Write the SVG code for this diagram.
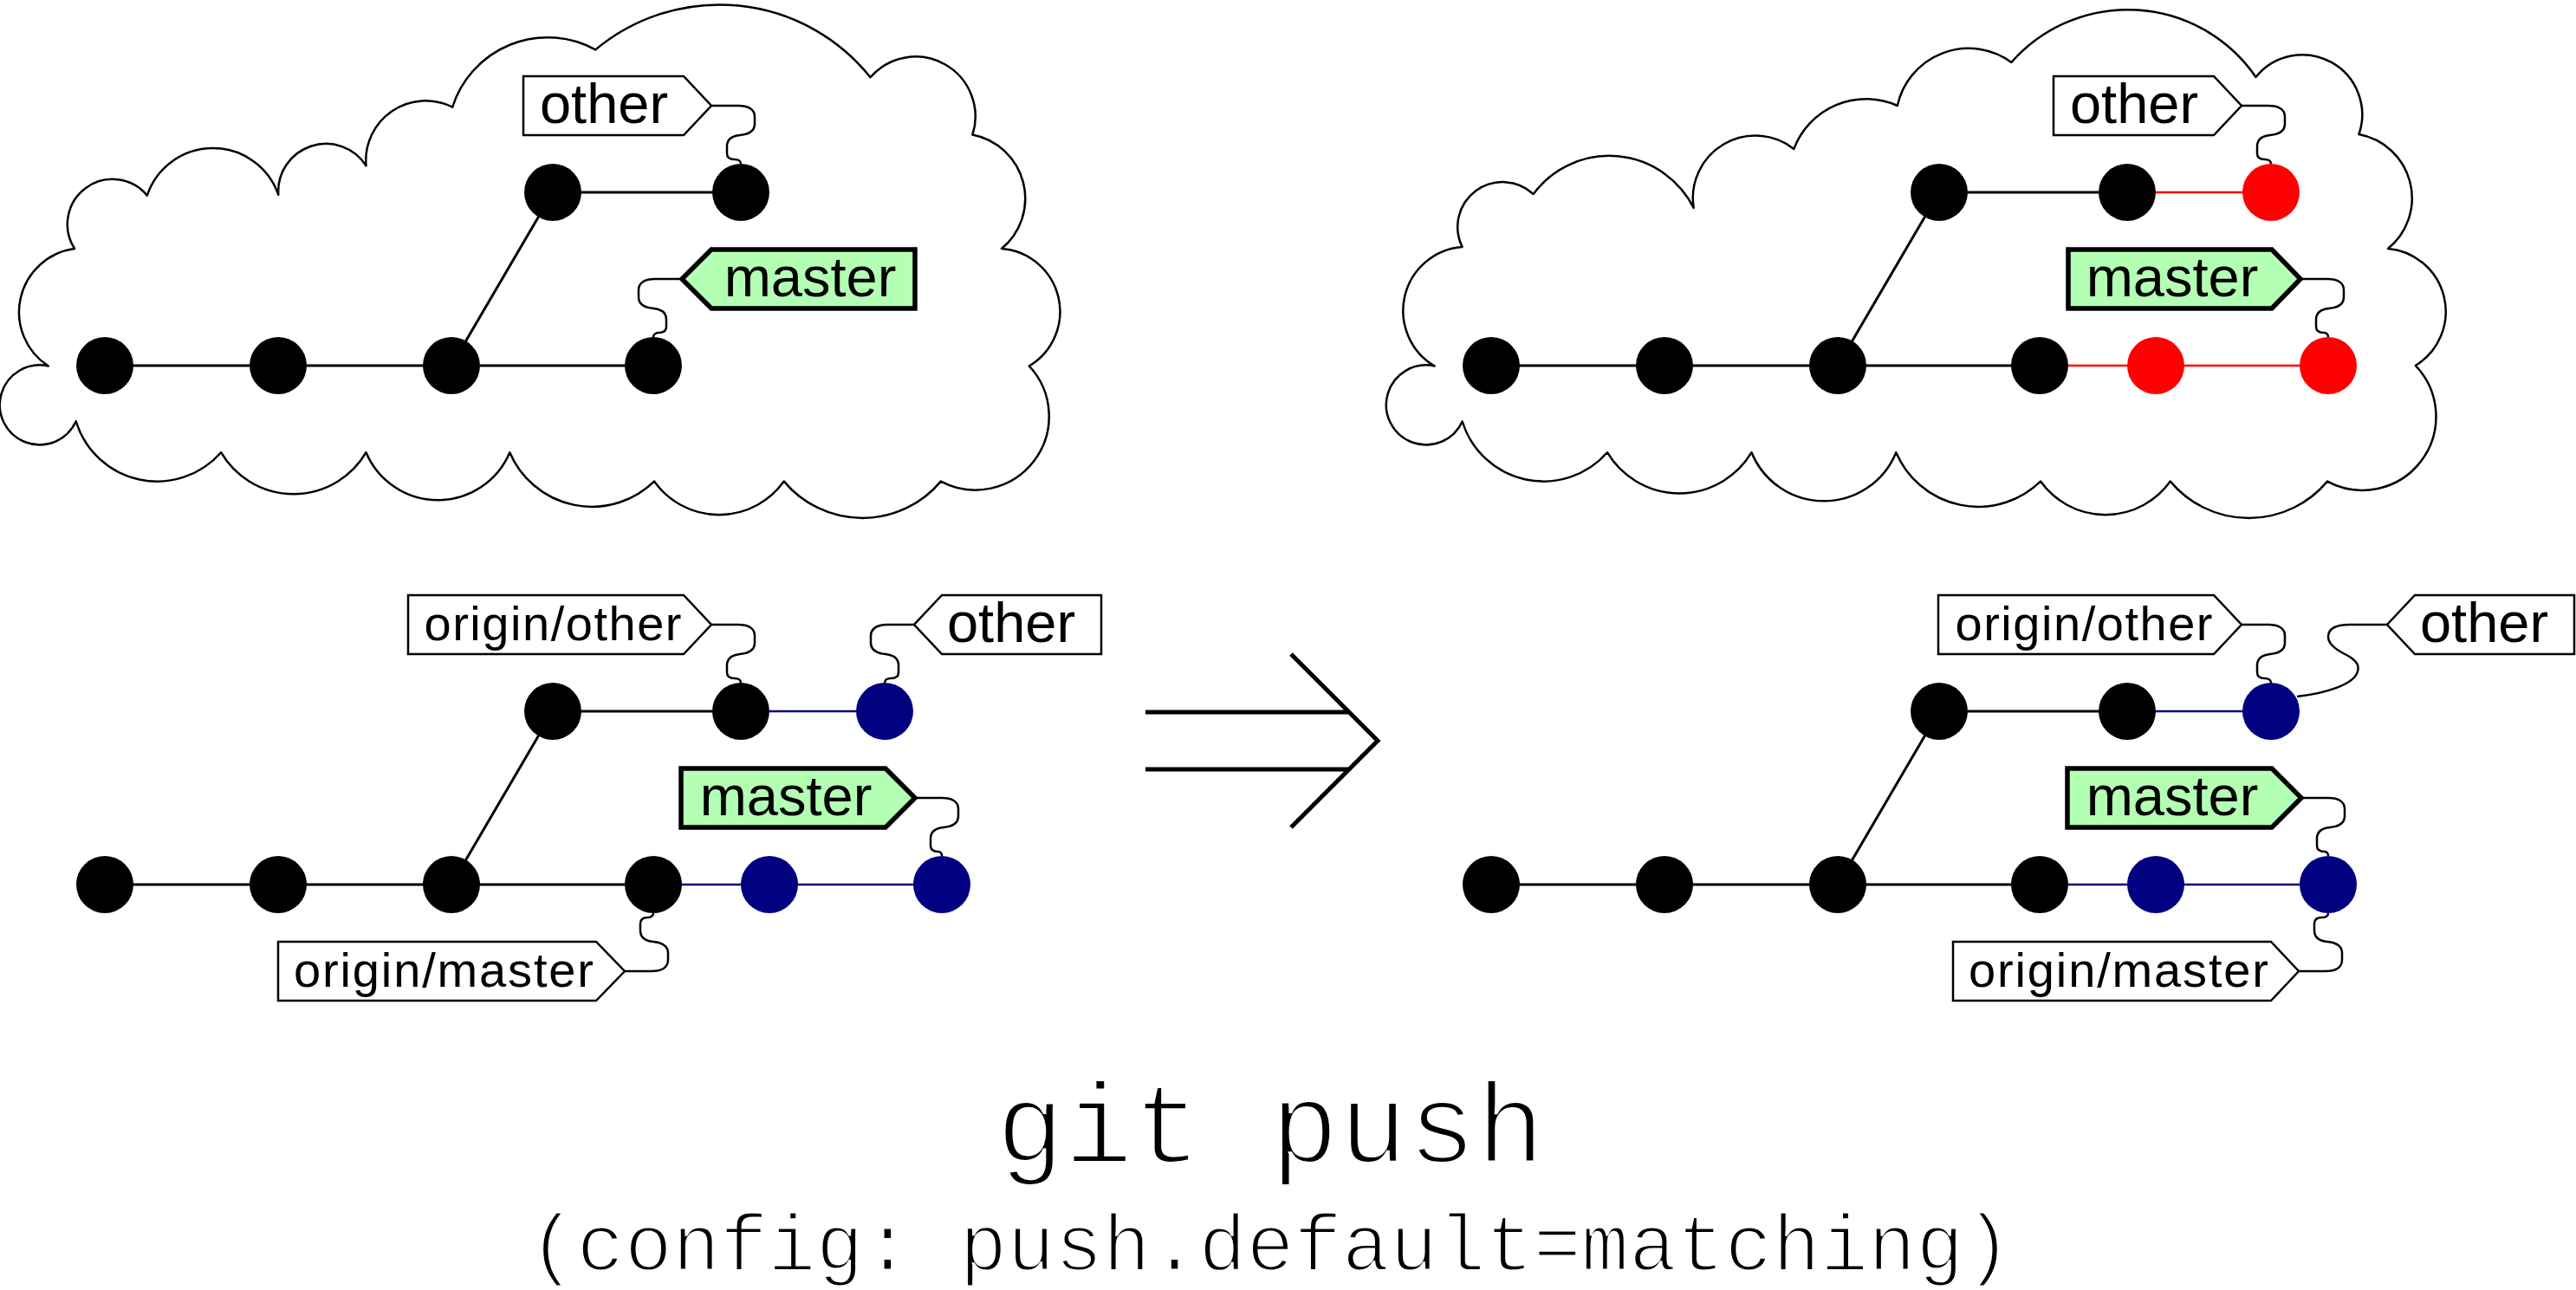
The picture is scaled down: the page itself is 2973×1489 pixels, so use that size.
<svg xmlns="http://www.w3.org/2000/svg" width="2973" height="1489" viewBox="0 0 2973 1489">
<style>
.cloud{fill:none;stroke:#000;stroke-width:2.5;stroke-linejoin:round}
.lk{stroke:#000;stroke-width:3;fill:none}
.lr{stroke:#f00;stroke-width:2.5;fill:none}
.ln{stroke:#000080;stroke-width:2.5;fill:none}
.cb{fill:#000}
.cr{fill:#f00}
.cn{fill:#000080}
.lw{fill:#fff;stroke:#000;stroke-width:2.5}
.lg{fill:#b3ffb3;stroke:#000;stroke-width:5.5}
.sq{fill:none;stroke:#000;stroke-width:2.5}
.tb{font-family:'Liberation Sans',Arial,sans-serif;font-size:65px;fill:#000;text-anchor:middle}
.ts{font-family:'Liberation Sans',Arial,sans-serif;font-size:56px;fill:#000;text-anchor:middle}
.mono{font-family:'Liberation Mono','Courier New',monospace;fill:#000;stroke:#fff;text-anchor:middle}
.arr{fill:none;stroke:#000;stroke-width:5}
</style>
<rect width="2973" height="1489" fill="#fff"/>

<g id="cloud-left">
<path class="cloud" d="M55.8,422.5 A74,74 0 0 1 86.1,287 A52,52 0 0 1 169.8,225.6 A80,80 0 0 1 321.3,224.8 A55,55 0 0 1 422.5,191.3 A69,69 0 0 1 522.2,123.6 A115,115 0 0 1 687.2,57.4 A223,223 0 0 1 1004.5,89.3 A69,69 0 0 1 1122.4,155.5 A75,75 0 0 1 1156,287 A73,73 0 0 1 1187.8,422.5 A85,85 0 0 1 1085.8,555.6 A118,118 0 0 1 904.8,555.6 A92,92 0 0 1 755,555.6 A103,103 0 0 1 588.3,522.2 A90,90 0 0 1 422.5,522.2 A97,97 0 0 1 255.1,522.2 A98,98 0 0 1 87.7,486.3 A46,46 0 1 1 55.8,422.5 Z"/>
</g>
<g id="cloud-right">
<path class="cloud" d="M1655.7,422.5 A74,74 0 0 1 1687.6,285 A52,52 0 0 1 1769.7,224 A109,109 0 0 1 1954.7,240 A72,72 0 0 1 2070.3,172 A89,89 0 0 1 2189.8,122 A84,84 0 0 1 2321.4,72 A179,179 0 0 1 2603.5,89 A69,69 0 0 1 2722.4,155 A75,75 0 0 1 2756,287 A73,73 0 0 1 2787.8,422 A85,85 0 0 1 2686,555.6 A118,118 0 0 1 2504.8,555.6 A92,92 0 0 1 2355,555.6 A103,103 0 0 1 2188.3,522.2 A90,90 0 0 1 2021.5,522.2 A97,97 0 0 1 1855,522.2 A98,98 0 0 1 1687.7,486.5 A46,46 0 1 1 1655.7,422.5 Z"/>
</g>

<g id="connectors">
<path class="lk" d="M121,422 H754 M521,422 L638,222 H855"/>
<path class="lk" d="M1721,422 H2354 M2121,422 L2238,222 H2455"/>
<path class="lr" d="M2354,422 H2687 M2455,222 H2621"/>
<path class="lk" d="M121,1021 H754 M521,1021 L638,821 H855"/>
<path class="ln" d="M754,1021 H1087 M855,821 H1021"/>
<path class="lk" d="M1721,1021 H2354 M2121,1021 L2238,821 H2455"/>
<path class="ln" d="M2354,1021 H2687 M2455,821 H2621"/>
<path class="sq" d="M821,122 h31 c11,0 19,4 19,13 v8 c0,8 -7,12 -17,13 c-10,1 -15,5 -15,13 v8 c0,5 4,7 9,7 c4,0 7,2 7,5"/>
<path class="sq" d="M787,322 h-31 c-11,0 -19,4 -19,13 v8 c0,8 7,12 17,13 c10,1 15,5 15,13 v8 c0,5 -4,7 -9,7 c-3,0 -6,2 -6,5"/>
<path class="sq" d="M2587,122 h31 c11,0 19,4 19,13 v8 c0,8 -7,12 -17,13 c-10,1 -15,5 -15,13 v8 c0,5 4,7 9,7 c4,0 7,2 7,5"/>
<path class="sq" d="M2655,322 h31 c11,0 19,4 19,13 v8 c0,8 -7,12 -17,13 c-10,1 -15,5 -15,13 v8 c0,5 4,7 9,7 c3,0 5,2 5,5"/>
<path class="sq" d="M821,721 h31 c11,0 19,4 19,13 v8 c0,8 -7,12 -17,13 c-10,1 -15,5 -15,13 v8 c0,5 4,7 9,7 c4,0 7,2 7,5"/>
<path class="sq" d="M1055,721 h-31 c-11,0 -19,4 -19,13 v8 c0,8 7,12 17,13 c10,1 15,5 15,13 v8 c0,5 -4,7 -9,7 c-4,0 -7,2 -7,5"/>
<path class="sq" d="M1056,921 h31 c11,0 19,4 19,13 v8 c0,8 -7,12 -17,13 c-10,1 -15,5 -15,13 v8 c0,5 4,7 9,7 c2,0 4,2 4,5"/>
<path class="sq" d="M721,1121 h31 c11,0 19,-4 19,-13 v-8 c0,-8 -7,-12 -17,-13 c-10,-1 -15,-5 -15,-13 v-8 c0,-5 4,-7 9,-7 c3,0 6,-2 6,-5"/>
<path class="sq" d="M2587,721 h31 c11,0 19,4 19,13 v8 c0,8 -7,12 -17,13 c-10,1 -15,5 -15,13 v8 c0,5 4,7 9,7 c4,0 7,2 7,5"/>
<path class="sq" d="M2755,721 H2712 C2695,721 2687,726 2687,735 C2687,745 2700,752 2710,757 C2720,763 2723,768 2721,775 C2717,790 2685,800 2651,804"/>
<path class="sq" d="M2656,921 h31 c11,0 19,4 19,13 v8 c0,8 -7,12 -17,13 c-10,1 -15,5 -15,13 v8 c0,5 4,7 9,7 c2,0 4,2 4,5"/>
<path class="sq" d="M2653,1121 h31 c11,0 19,-4 19,-13 v-8 c0,-8 -7,-12 -17,-13 c-10,-1 -15,-5 -15,-13 v-8 c0,-5 4,-7 9,-7 c4,0 7,-2 7,-5"/>
<path class="arr" d="M1322,822 H1558 M1322,888 H1558 M1490,755 L1590,855 L1490,955"/>
</g>

<g id="tl-c1"><circle class="cb" cx="121" cy="422" r="33"/></g>
<g id="tl-c2"><circle class="cb" cx="321" cy="422" r="33"/></g>
<g id="tl-c3"><circle class="cb" cx="521" cy="422" r="33"/></g>
<g id="tl-c4"><circle class="cb" cx="754" cy="422" r="33"/></g>
<g id="tl-c5"><circle class="cb" cx="638" cy="222" r="33"/></g>
<g id="tl-c6"><circle class="cb" cx="855" cy="222" r="33"/></g>
<g id="tr-c1"><circle class="cb" cx="1721" cy="422" r="33"/></g>
<g id="tr-c2"><circle class="cb" cx="1921" cy="422" r="33"/></g>
<g id="tr-c3"><circle class="cb" cx="2121" cy="422" r="33"/></g>
<g id="tr-c4"><circle class="cb" cx="2354" cy="422" r="33"/></g>
<g id="tr-c5"><circle class="cr" cx="2488" cy="422" r="33"/></g>
<g id="tr-c6"><circle class="cr" cx="2687" cy="422" r="33"/></g>
<g id="tr-c7"><circle class="cb" cx="2238" cy="222" r="33"/></g>
<g id="tr-c8"><circle class="cb" cx="2455" cy="222" r="33"/></g>
<g id="tr-c9"><circle class="cr" cx="2621" cy="222" r="33"/></g>
<g id="bl-c1"><circle class="cb" cx="121" cy="1021" r="33"/></g>
<g id="bl-c2"><circle class="cb" cx="321" cy="1021" r="33"/></g>
<g id="bl-c3"><circle class="cb" cx="521" cy="1021" r="33"/></g>
<g id="bl-c4"><circle class="cb" cx="754" cy="1021" r="33"/></g>
<g id="bl-c5"><circle class="cn" cx="888" cy="1021" r="33"/></g>
<g id="bl-c6"><circle class="cn" cx="1087" cy="1021" r="33"/></g>
<g id="bl-c7"><circle class="cb" cx="638" cy="821" r="33"/></g>
<g id="bl-c8"><circle class="cb" cx="855" cy="821" r="33"/></g>
<g id="bl-c9"><circle class="cn" cx="1021" cy="821" r="33"/></g>
<g id="br-c1"><circle class="cb" cx="1721" cy="1021" r="33"/></g>
<g id="br-c2"><circle class="cb" cx="1921" cy="1021" r="33"/></g>
<g id="br-c3"><circle class="cb" cx="2121" cy="1021" r="33"/></g>
<g id="br-c4"><circle class="cb" cx="2354" cy="1021" r="33"/></g>
<g id="br-c5"><circle class="cn" cx="2488" cy="1021" r="33"/></g>
<g id="br-c6"><circle class="cn" cx="2687" cy="1021" r="33"/></g>
<g id="br-c7"><circle class="cb" cx="2238" cy="821" r="33"/></g>
<g id="br-c8"><circle class="cb" cx="2455" cy="821" r="33"/></g>
<g id="br-c9"><circle class="cn" cx="2621" cy="821" r="33"/></g>

<g id="tl-other"><path class="lw" d="M604,88 H789 L821,122 L789,156 H604 Z"/><text class="tb" x="697" y="142">other</text></g>
<g id="tl-master"><path class="lg" d="M821,288 H1056 V356 H821 L787,322 Z"/><text class="tb" x="935" y="342">master</text></g>
<g id="tr-other"><path class="lw" d="M2370,88 H2555 L2587,122 L2555,156 H2370 Z"/><text class="tb" x="2463" y="142">other</text></g>
<g id="tr-master"><path class="lg" d="M2387,288 H2622 L2655,322 L2622,356 H2387 Z"/><text class="tb" x="2507" y="342">master</text></g>

<g id="bl-origin-other"><path class="lw" d="M471,687 H789 L821,721 L789,755 H471 Z"/><text class="ts" x="638" y="739" textLength="297" lengthAdjust="spacing">origin/other</text></g>
<g id="bl-other"><path class="lw" d="M1087,687 H1271 V755 H1087 L1055,721 Z"/><text class="tb" x="1167" y="741">other</text></g>
<g id="bl-master"><path class="lg" d="M786,887 H1022 L1056,921 L1022,955 H786 Z"/><text class="tb" x="907" y="941">master</text></g>
<g id="bl-origin-master"><path class="lw" d="M321,1087 H688 L721,1121 L688,1155 H321 Z"/><text class="ts" x="512" y="1139" textLength="346" lengthAdjust="spacing">origin/master</text></g>

<g id="br-origin-other"><path class="lw" d="M2237,687 H2555 L2587,721 L2555,755 H2237 Z"/><text class="ts" x="2405" y="739" textLength="297" lengthAdjust="spacing">origin/other</text></g>
<g id="br-other"><path class="lw" d="M2787,687 H2971 V755 H2787 L2755,721 Z"/><text class="tb" x="2867" y="741">other</text></g>
<g id="br-master"><path class="lg" d="M2386,887 H2622 L2656,921 L2622,955 H2386 Z"/><text class="tb" x="2507" y="941">master</text></g>
<g id="br-origin-master"><path class="lw" d="M2254,1087 H2621 L2653,1121 L2621,1155 H2254 Z"/><text class="ts" x="2445" y="1139" textLength="346" lengthAdjust="spacing">origin/master</text></g>

<g id="title">
<text class="mono" x="1466" y="1342" font-size="132" stroke-width="4">git push</text>
<text class="mono" x="1466" y="1466" font-size="92" stroke-width="3">(config: push.default=matching)</text>
</g>
</svg>
